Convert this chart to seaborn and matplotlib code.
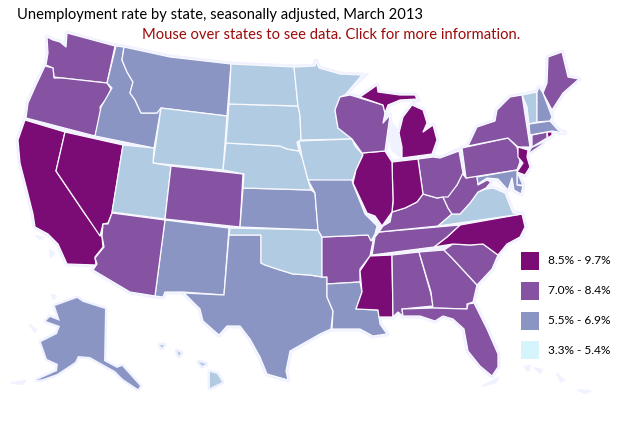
import matplotlib
matplotlib.use("Agg")
import matplotlib.pyplot as plt
from matplotlib.patches import Rectangle
import seaborn as sns

sns.set_theme(style="white")
plt.rcParams['font.family'] = ['Lato', 'DejaVu Sans']

TITLE = "Unemployment rate by state, seasonally adjusted, March 2013"
SUBTITLE = "Mouse over states to see data. Click for more information."
TIER_LABELS = ["8.5% - 9.7%", "7.0% - 8.4%", "5.5% - 6.9%", "3.3% - 5.4%"]
TIER_COLORS = ["#7b0c75", "#8553a2", "#8a95c4", "#d5f4fb"]
MAP_LOW = "#b1cce2"  # lowest tier as it appears on the map

HIGH = ["CA", "NV", "MI", "IL", "IN", "MS", "NC", "NJ", "RI", "MI2"]
UPPER = ["WA", "OR", "CO", "AZ", "WI", "OH", "PA", "NY", "KY", "TN", "WV", "AR", "AL",
         "GA", "SC", "FL", "ME", "CT", "LI"]
MIDDLE = ["ID", "MT", "NM", "TX", "KS", "MO", "LA", "AK", "NH", "MA", "MD", "DE"]
LOW = ["WY", "UT", "ND", "SD", "NE", "MN", "IA", "OK", "VA", "VT", "HI", "HI2", "HI3", "HI4"]

SHAPES = {
 "WA": [(47,37),(53,40),(60,42),(66,47),(67,33),(115,46),(107,83),(80,80),(62,78),(54,77),(53,68),(46,65),(48,53)],
 "OR": [(45,66),(53,68),(54,78),(62,78),(80,80),(107,83),(111,89),(107,98),(100,107),(101,113),(95,136),(26,118),(28,103),(36,85)],
 "CA": [(25,120),(65,132),(56,171),(85,214),(102,237),(103,247),(95,257),(96,265),(67,264),(58,244),(48,234),(35,227),(33,214),(27,190),(20,163),(18,140)],
 "NV": [(65,132),(123,145),(112,213),(108,223),(103,224),(100,236),(56,171)],
 "ID": [(116,46),(124,47),(122,60),(127,72),(133,82),(130,93),(135,100),(141,113),(157,113),(161,108),(154,148),(95,136),(101,107),(112,88),(107,83)],
 "MT": [(124,47),(170,57),(231,64),(227,116),(161,108),(157,113),(141,113),(135,100),(130,93),(133,82),(127,72),(122,60)],
 "WY": [(161,108),(227,116),(223,170),(153,163)],
 "UT": [(123,145),(154,148),(153,163),(171,166),(165,219),(112,212)],
 "CO": [(171,166),(243,174),(240,227),(165,219)],
 "NM": [(165,220),(229,228),(224,295),(183,292),(165,292),(163,297),(155,296)],
 "AZ": [(112,213),(165,220),(155,296),(130,292),(93,270),(97,264),(95,258),(104,247),(102,236),(103,224),(108,224)],
 "TX": [(229,235),(261,235),(261,263),(265,265),(280,270),(293,274),(310,275),(322,277),(327,277),(327,297),(333,311),(331,329),(320,334),(290,351),(286,371),(288,380),(267,374),(260,357),(250,339),(240,326),(227,326),(219,335),(203,321),(200,309),(184,293),(224,295)],
 "OK": [(230,228),(318,230),(322,237),(322,277),(310,275),(293,274),(280,270),(265,265),(261,263),(261,235),(229,235)],
 "AR": [(322,237),(368,235),(373,241),(370,256),(360,269),(360,282),(327,284),(327,277),(322,277)],
 "KS": [(243,188),(311,190),(315,193),(318,230),(240,227)],
 "NE": [(226,143),(280,146),(287,149),(299,151),(302,157),(308,180),(311,190),(243,188),(244,174),(223,170)],
 "SD": [(229,104),(298,106),(300,115),(301,140),(297,142),(299,151),(287,149),(280,146),(226,143)],
 "ND": [(231,64),(294,67),(298,106),(229,104)],
 "MN": [(294,67),(315,66),(316,61),(319,68),(340,74),(362,75),(345,95),(340,97),(335,110),(338,128),(352,139),(301,140),(300,115),(298,106)],
 "IA": [(299,141),(352,139),(355,146),(363,155),(356,170),(352,182),(308,180),(302,157)],
 "MO": [(308,180),(352,180),(353,184),(365,214),(377,226),(375,234),(371,241),(368,235),(322,237),(318,230),(315,193)],
 "LA": [(327,284),(360,282),(362,292),(356,309),(378,310),(380,324),(387,334),(373,336),(360,329),(350,329),(332,329),(333,311),(327,297)],
 "MS": [(370,256),(392,255),(393,317),(379,317),(378,310),(356,309),(362,292),(360,271)],
 "AL": [(392,255),(419,252),(431,294),(433,306),(402,309),(403,316),(398,312),(393,317)],
 "GA": [(419,252),(444,250),(452,258),(477,285),(473,302),(467,304),(467,309),(433,308),(431,292)],
 "FL": [(402,309),(433,308),(467,309),(468,304),(474,303),(487,329),(498,354),(498,367),(492,376),(480,366),(468,351),(464,329),(453,319),(443,316),(435,321),(420,316),(403,316)],
 "SC": [(444,250),(453,244),(470,245),(483,244),(498,255),(492,269),(477,285),(452,258)],
 "NC": [(460,225),(522,214),(525,227),(520,237),(507,244),(498,255),(483,244),(470,245),(453,244),(434,247),(447,237)],
 "TN": [(375,237),(379,232),(460,225),(447,237),(434,247),(372,255)],
 "KY": [(379,232),(383,226),(390,222),(392,212),(405,208),(417,202),(423,194),(437,198),(443,197),(448,208),(452,214),(438,226)],
 "VA": [(438,226),(452,214),(460,214),(470,203),(478,192),(486,189),(493,188),(505,193),(513,213),(522,214)],
 "WV": [(462,173),(466,178),(477,176),(478,185),(487,180),(491,182),(486,188),(478,192),(470,203),(460,214),(452,214),(448,208),(443,197),(448,192),(457,185)],
 "OH": [(418,159),(433,157),(440,158),(459,151),(463,173),(457,185),(448,197),(443,197),(437,198),(423,194)],
 "IN": [(392,162),(418,159),(423,194),(417,202),(405,208),(392,212),(393,203)],
 "IL": [(362,153),(385,151),(392,162),(393,200),(392,212),(382,226),(375,216),(367,213),(353,183),(356,170),(363,155)],
 "WI": [(340,97),(350,95),(383,105),(385,113),(383,123),(390,115),(385,151),(362,153),(352,139),(338,128),(335,110)],
 "MI": [(360,97),(373,88),(377,85),(378,92),(400,95),(415,95),(417,99),(400,100),(388,105),(385,113),(383,105)],
 "MI2": [(412,105),(423,110),(427,123),(423,132),(433,125),(437,140),(432,154),(402,158),(402,147),(399,133),(403,117)],
 "PA": [(462,148),(508,138),(517,147),(520,162),(517,170),(466,178)],
 "NY": [(468,146),(477,127),(495,121),(497,110),(510,97),(522,95),(530,147),(518,147),(508,138)],
 "LI": [(530,152),(543,143),(532,148)],
 "NJ": [(518,147),(528,150),(527,157),(530,167),(525,175),(517,172),(523,163),(518,157)],
 "DE": [(517,172),(523,185),(517,185)],
 "MD": [(477,177),(517,170),(517,185),(523,186),(521,194),(514,190),(512,178),(508,190),(498,179),(487,178),(478,184)],
 "CT": [(532,135),(547,132),(547,138),(532,147)],
 "RI": [(547,132),(552,132),(552,135),(548,138)],
 "MA": [(529,124),(550,121),(558,130),(565,133),(552,131),(530,135)],
 "VT": [(522,95),(537,92),(537,107),(537,122),(529,124),(527,107)],
 "NH": [(537,92),(539,87),(543,93),(552,117),(550,121),(537,122),(537,107)],
 "ME": [(547,83),(548,57),(562,52),(568,77),(579,79),(563,93),(552,110),(543,93)],
 "AK": [(55,306),(77,298),(83,302),(105,309),(104,361),(117,368),(122,366),(140,386),(138,389),(123,379),(115,371),(90,357),(78,356),(75,362),(57,374),(43,379),(37,380),(57,371),(58,364),(47,359),(41,342),(57,334),(60,326),(46,321),(50,317),(60,321)],
 "HI": [(210,372),(217,374),(222,382),(210,388)],
 "HI2": [(177,351),(181,353),(179,356)],
 "HI3": [(199,362),(206,364),(202,366)],
 "HI4": [(160,345),(164,345),(162,348)],
}

# faint outlines of lakes' shores and neighbouring islands
FAINT = [
 [(340,74),(368,74),(345,95)],
 [(385,113),(399,133),(402,158),(392,150)],
 [(415,95),(420,100),(412,105)],
 [(440,158),(462,148),(468,146),(455,150)],
 [(535,368),(542,370),(540,373)],
 [(557,374),(564,380),(561,382)],
 [(578,390),(590,391),(585,393)],
 [(525,367),(530,366),(528,371)],
 [(483,386),(498,378),(496,382)],
 [(12,383),(25,381),(22,384)],
 [(30,325),(36,330),(35,332)],
 [(52,295),(56,296),(54,299)],
 [(50,250),(54,253),(51,257)],
 [(36,236),(44,238),(40,239)],
]

def tier_color(name):
    if name in HIGH:
        return TIER_COLORS[0]
    if name in UPPER:
        return TIER_COLORS[1]
    if name in MIDDLE:
        return TIER_COLORS[2]
    return MAP_LOW

fig = plt.figure(figsize=(6.43, 4.28), dpi=100, facecolor="white")
ax = fig.add_axes([0, 0, 1, 1])
ax.set_xlim(0, 643)
ax.set_ylim(428, 0)
ax.axis("off")

HALO = "#f0f2ff"
for pts in FAINT:
    x, y = zip(*pts)
    ax.fill(x, y, facecolor=HALO, edgecolor=HALO, linewidth=1.5, joinstyle="round", zorder=1)
for name, pts in SHAPES.items():
    x, y = zip(*pts)
    ax.fill(x, y, facecolor=HALO, edgecolor=HALO, linewidth=3.5, joinstyle="round", zorder=1)
thin = {"HI", "HI2", "HI3", "HI4", "AK", "LI"}
for name, pts in SHAPES.items():
    x, y = zip(*pts)
    ax.fill(x, y, facecolor=tier_color(name), edgecolor="none" if name in thin else "#f9f9ff",
            linewidth=0.9, joinstyle="round", zorder=2)

ax.text(17, 15, TITLE, fontsize=10.65, color="black", ha="left", va="center", zorder=5)
ax.text(142, 35, SUBTITLE, fontsize=10.65, color="#9c0a0a", ha="left", va="center", zorder=5)

for i, (label, color) in enumerate(zip(TIER_LABELS, TIER_COLORS)):
    top = [252, 282, 312, 341][i]
    ax.add_patch(Rectangle((521, top), 18, 18, facecolor=color, edgecolor="none", zorder=5))
    ax.text(548, top + 9, label, fontsize=8.6, color="black", ha="left", va="center", zorder=5)

fig.savefig("out.png", dpi=100, facecolor="white")
